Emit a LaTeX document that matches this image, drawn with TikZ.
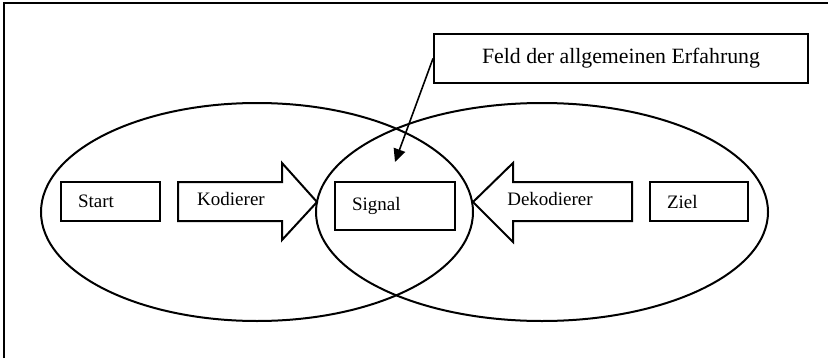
\documentclass[tikz,border=0pt]{standalone}
\usepackage{fontspec}
\setmainfont{Liberation Serif}
\usetikzlibrary{positioning, arrows.meta}
\tikzset{
  kasten/.style={draw, line width=1pt, inner xsep=8.5pt, inner ysep=0pt, align=left,
    font=\fontsize{9.5}{11}\selectfont},
  wort/.style={inner sep=0pt, font=\fontsize{9.5}{11}\selectfont}}

\begin{document}
\begin{tikzpicture}[x=0.5pt, y=-0.5pt, line width=1pt]
\useasboundingbox (0,0) rectangle (828,358);
  % Rahmen
  \draw [line width=1.2pt] (4,358) -- (4,3) -- (828,3);
    % die beiden Felder
    \draw (257,212) ellipse [x radius=216, y radius=109];
    \draw (542,212) ellipse [x radius=226, y radius=109];
  \node [kasten, text width=32.5pt, minimum height=19.5pt] (start) at (110.5,201.5) {Start};
  \node [kasten, text width=43pt, minimum height=24pt] (signal) at (395,206) {Signal};
  \node [kasten, text width=32pt, minimum height=19.5pt] (ziel) at (699,201.5) {Ziel};
    % Blockpfeile
    \draw (178,182) -- (282,182) -- (282,163) -- (317,202) -- (282,240) -- (282,221) -- (178,221) -- cycle;
    \draw (632,182) -- (513,182) -- (513,163) -- (473,202) -- (513,242) -- (513,221) -- (632,221) -- cycle;
  \node [wort] (kodierer) at (231,199) {Kodierer};
  \node [wort] (dekodierer) at (550,199) {Dekodierer};
  \node [draw, minimum width=187pt, minimum height=24.5pt, inner sep=0pt,
    font=\fontsize{10.9}{13}\selectfont] (feld) at (621,58.5) {Feld der allgemeinen Erfahrung};
  \coordinate (mitte) at (395,162);
  \draw [line width=0.8pt, -{Triangle[length=6.5pt, width=6pt]}] (feld.west) -- (mitte);
\end{tikzpicture}
\end{document}
